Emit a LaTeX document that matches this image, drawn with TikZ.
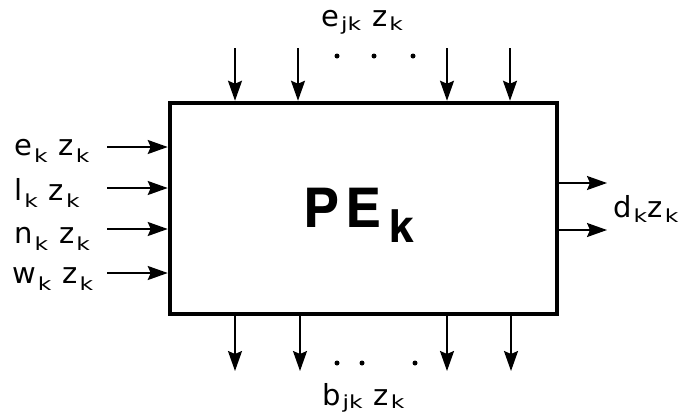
\documentclass[tikz,border=0pt]{standalone}
\usepackage{graphicx}
\usepackage{fontspec}
\setmainfont{DejaVu Sans}
\newfontfamily\hvfont{TeX Gyre Heros}
\usetikzlibrary{arrows.meta}
\newcommand{\sbk}[2][-5pt]{\hspace{2pt}\raisebox{#1}{\scalebox{1.3}[1]{\fontsize{18}{18}\selectfont #2}}}
\newcommand{\gp}{\hspace{11pt}}
\begin{document}
\begin{tikzpicture}[x=1pt,y=-1pt,
  lbl/.style={inner sep=0pt,anchor=base west,font=\fontsize{29}{30}\selectfont},
  arr/.style={line width=1.9pt,-{Stealth[length=20pt,width=14pt,inset=3pt]}},
  dotm/.style={circle,fill,inner sep=0pt,minimum size=5pt}]
\useasboundingbox (0,0) rectangle (679,418);
% main box
\node[draw,line width=4.5pt,minimum width=387pt,minimum height=211pt,inner sep=0pt] (box) at (363.5,208.5) {};
\node[anchor=base west,inner sep=0pt,font=\hvfont\fontsize{54}{54}\selectfont\bfseries] (pe) at (303,227)
  {P\hspace{6pt}E\hspace{8pt}\raisebox{-15pt}{\fontsize{45}{45}\selectfont k}};
% top inputs
\foreach \i/\x in {1/235,2/298,3/447,4/510}{
  \coordinate (t\i) at (\x,48);
  \draw[arr] (t\i) -- (t\i |- box.north);
}
\node[dotm] (td1) at (337,56) {};
\node[dotm] (td2) at (374,56) {};
\node[dotm] (td3) at (413,56) {};
\node[lbl] (ejk) at (321,26) {e\sbk[-4pt]{jk}\gp z\sbk[-4pt]{k}};
% bottom outputs
\foreach \i/\x in {1/235,2/300,3/447,4/511}{
  \coordinate (b\i) at (\x,371);
  \draw[arr] (b\i |- box.south) -- (b\i);
}
\node[dotm] (bd1) at (337,363) {};
\node[dotm] (bd2) at (362,363) {};
\node[dotm] (bd3) at (415,363) {};
\node[lbl] (bjk) at (322,405) {b\sbk[-3pt]{jk}\gp z\sbk[-3pt]{k}};
% left inputs
\foreach \i/\y in {1/147,2/188,3/229,4/273}{
  \coordinate (l\i) at (107,\y);
  \draw[arr] (l\i) -- (l\i -| box.west);
}
\node[lbl] (ek) at (14,155) {e\sbk[-7pt]{k}\gp z\sbk[-7pt]{k}};
\node[lbl] (lk) at (14,200) {l\sbk[-7pt]{k}\gp z\sbk[-7pt]{k}};
\node[lbl] (nk) at (14,243) {n\sbk[-7pt]{k}\gp z\sbk[-7pt]{k}};
\node[lbl] (wk) at (12,283) {w\sbk[-7pt]{k}\gp z\sbk[-7pt]{k}};
% right outputs
\foreach \i/\y in {1/183,2/230}{
  \coordinate (r\i) at (607,\y);
  \draw[arr] (r\i -| box.east) -- (r\i);
}
\node[lbl] (dk) at (613,217) {d\sbk{k}\hspace{0.5pt}z\sbk{k}};
\end{tikzpicture}
\end{document}
